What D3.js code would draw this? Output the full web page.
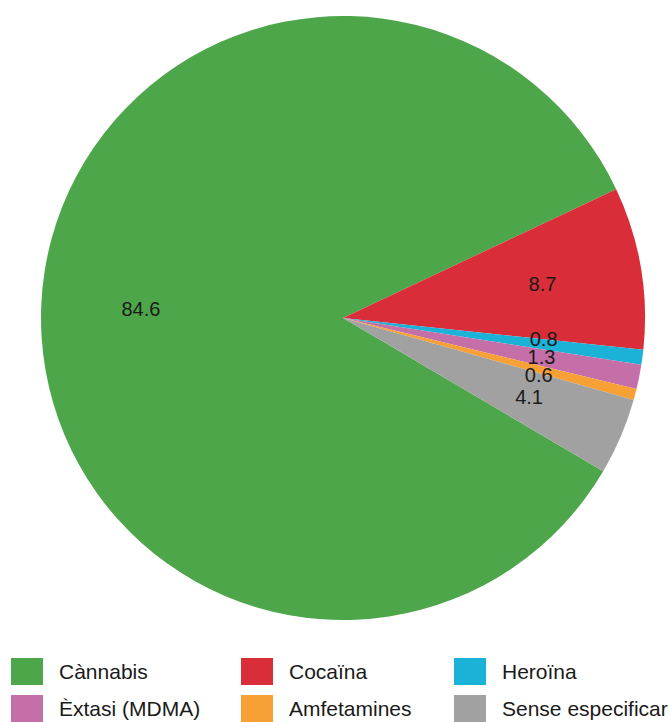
<!DOCTYPE html>
<html>
<head>
<meta charset="utf-8">
<script src="https://cdn.jsdelivr.net/npm/d3@7"></script>
<style>
  body { margin: 0; background: #fff; }
  text { font-family: "Liberation Sans", Arial, sans-serif; }
</style>
</head>
<body>
<script>
// drug categories and their share (%)
const categories = ['Cànnabis', 'Cocaïna', 'Heroïna', 'Èxtasi (MDMA)', 'Amfetamines', 'Sense especificar'];
const values = [84.6, 8.7, 0.8, 1.3, 0.6, 4.1];
const colors = ['#4ea64a', '#d92e3a', '#1ab3d7', '#c46fa8', '#f7a035', '#a1a1a1'];

const width = 670, height = 722;
const cx = 343, cy = 318, radius = 302;

const data = categories.map((c, i) => ({ name: c, value: values[i] }));

const svg = d3.select('body').append('svg')
    .attr('width', width)
    .attr('height', height);

const color = d3.scaleOrdinal().domain(categories).range(colors);

const startA = 120.5 * Math.PI / 180;
const pie = d3.pie()
    .sort(null)
    .value(d => d.value)
    .startAngle(startA)
    .endAngle(startA + 2 * Math.PI);

const arc = d3.arc().innerRadius(0).outerRadius(radius);
const labelArc = d3.arc().innerRadius(radius * 0.67).outerRadius(radius * 0.67);

const g = svg.append('g')
    .attr('transform', `translate(${cx},${cy})`);

const slices = pie(data);

g.selectAll('path')
    .data(slices)
    .join('path')
    .attr('d', arc)
    .attr('fill', d => color(d.data.name));

// label positions, pushed apart vertically when they collide
const labels = slices.map(d => {
    const c = labelArc.centroid(d);
    return { d: d, x: c[0], y: c[1] };
});
const minGap = 18;
for (let k = 0; k < 50; k++) {
    let moved = false;
    for (let i = 0; i < labels.length; i++) {
        for (let j = i + 1; j < labels.length; j++) {
            const a = labels[i], b = labels[j];
            if (Math.abs(a.x - b.x) > 40) continue;
            const dy = b.y - a.y;
            if (Math.abs(dy) < minGap) {
                const push = (minGap - Math.abs(dy)) / 2;
                const s = dy >= 0 ? 1 : -1;
                a.y -= s * push;
                b.y += s * push;
                moved = true;
            }
        }
    }
    if (!moved) break;
}

g.selectAll('text')
    .data(labels)
    .join('text')
    .attr('x', d => d.x)
    .attr('y', d => d.y)
    .attr('text-anchor', 'middle')
    .attr('dy', '0.35em')
    .style('font-size', '20px')
    .style('fill', '#1a1a1a')
    .text(d => d3.format('.1f')(d.d.data.value));

// legend, 3 columns x 2 rows
const colX = [11, 241, 454];
const rowY = [658, 695];

const legend = svg.selectAll('.legend')
    .data(categories)
    .join('g')
    .attr('class', 'legend')
    .attr('transform', (d, i) => `translate(${colX[i % 3]},${rowY[Math.floor(i / 3)]})`);

legend.append('rect')
    .attr('width', 32)
    .attr('height', 27)
    .attr('fill', d => color(d));

legend.append('text')
    .attr('x', 48)
    .attr('y', 14)
    .attr('dy', '0.35em')
    .style('font-size', '21px')
    .style('fill', '#1a1a1a')
    .text(d => d);
</script>
</body>
</html>
